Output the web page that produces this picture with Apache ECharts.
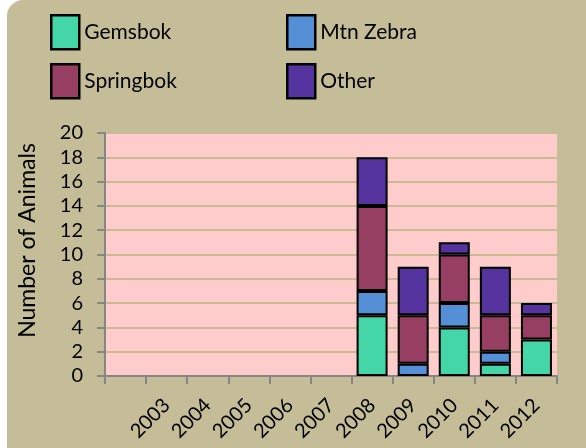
<!DOCTYPE html>
<html>
<head>
<meta charset="utf-8">
<script src="https://cdn.jsdelivr.net/npm/echarts@6/dist/echarts.min.js"></script>
<style>
  html, body { margin: 0; padding: 0; background: #ffffff; overflow: hidden; }
  #panel { position: absolute; left: 7px; top: 0; width: 600px; height: 460px;
           background: #c5bd98; border-top-left-radius: 16px; }
  #chart { position: absolute; left: 0; top: 0; width: 586px; height: 448px; }
</style>
</head>
<body>
<div id="panel"></div>
<div id="chart"></div>
<script>
// first slot has no label in the original
const years = ['', '2003', '2004', '2005', '2006', '2007', '2008', '2009', '2010', '2011', '2012']
const gemsbok   = [0, 0, 0, 0, 0, 0, 5, 0, 4, 1, 3]
const mtnZebra  = [0, 0, 0, 0, 0, 0, 2, 1, 2, 1, 0]
const springbok = [0, 0, 0, 0, 0, 0, 7, 4, 4, 3, 2]
const other     = [0, 0, 0, 0, 0, 0, 4, 4, 1, 4, 1]

const font = 'Lato, "Liberation Sans", sans-serif'
const colors = {
  Gemsbok: '#44d6a6',
  'Mtn Zebra': '#5590d6',
  Springbok: '#963f63',
  Other: '#5534a0'
}

function bar (name, data) {
  return {
    name: name,
    type: 'bar',
    stack: 'animals',
    barWidth: 31,
    data: data.map(v => (v === 0 ? null : v)),
    itemStyle: { color: colors[name], borderColor: '#000', borderWidth: 2 }
  }
}

function legend (name, left, top) {
  return {
    data: [name],
    left: left,
    top: top,
    padding: 0,
    icon: 'rect',
    itemWidth: 28,
    itemHeight: 34,
    selectedMode: false,
    itemStyle: { borderColor: '#000', borderWidth: 2.5 },
    textStyle: { fontFamily: font, fontSize: 21, color: '#000' }
  }
}

const option = {
  animation: false,
  backgroundColor: 'transparent',
  legend: [
    legend('Gemsbok', 50, 14),
    legend('Mtn Zebra', 286, 14),
    legend('Springbok', 50, 63),
    legend('Other', 286, 63)
  ],
  grid: { left: 105, right: 29, top: 133, bottom: 72, backgroundColor: '#ffcccc', show: true, borderWidth: 0 },
  xAxis: {
    type: 'category',
    data: years,
    axisLine: { lineStyle: { color: '#868686', width: 2 } },
    axisTick: { show: true, interval: 0, length: 8, lineStyle: { color: '#868686', width: 2 } },
    axisLabel: { interval: 0, rotate: 45, margin: 26, color: '#000', fontFamily: font, fontSize: 20 }
  },
  yAxis: {
    type: 'value',
    min: 0,
    max: 20,
    interval: 2,
    name: 'Number of Animals',
    nameLocation: 'middle',
    nameGap: 66,
    nameTextStyle: { fontFamily: font, fontSize: 23, color: '#000', padding: [0, 0, 0, 28] },
    axisLine: { show: true, lineStyle: { color: '#868686', width: 2 } },
    axisTick: { show: true, length: 8, lineStyle: { color: '#868686', width: 2 } },
    axisLabel: { margin: 22, color: '#000', fontFamily: font, fontSize: 20 },
    splitLine: { lineStyle: { color: '#c8bb96', width: 2 } }
  },
  series: [
    bar('Gemsbok', gemsbok),
    bar('Mtn Zebra', mtnZebra),
    bar('Springbok', springbok),
    bar('Other', other)
  ]
}

const chart = echarts.init(document.getElementById('chart'))
chart.setOption(option)
</script>
</body>
</html>
